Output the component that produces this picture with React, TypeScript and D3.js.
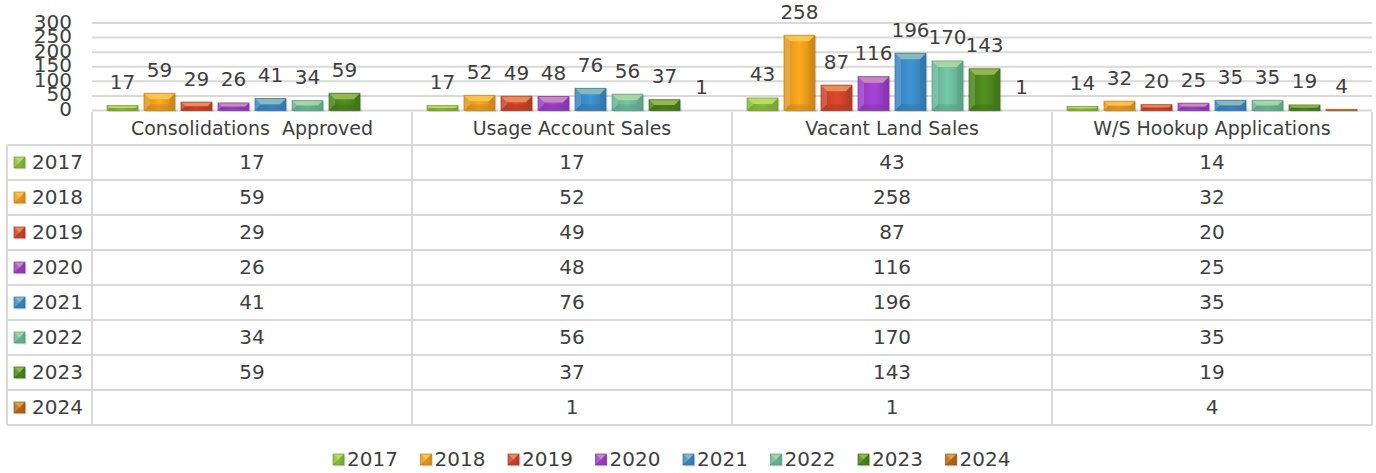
import React from "react";
import * as d3 from "d3";

const categories = ["Consolidations  Approved", "Usage Account Sales", "Vacant Land Sales", "W/S Hookup Applications"];
const years = ["2017", "2018", "2019", "2020", "2021", "2022", "2023", "2024"];
const v2017 = [17, 17, 43, 14];
const v2018 = [59, 52, 258, 32];
const v2019 = [29, 49, 87, 20];
const v2020 = [26, 48, 116, 25];
const v2021 = [41, 76, 196, 35];
const v2022 = [34, 56, 170, 35];
const v2023 = [59, 37, 143, 19];
const v2024 = [null, 1, 1, 4];
const seriesValues: (number | null)[][] = [v2017, v2018, v2019, v2020, v2021, v2022, v2023, v2024];
const yTicks = [0, 50, 100, 150, 200, 250, 300];
const colors = ["#8cc43c", "#f2a11c", "#d4452b", "#a040d0", "#3c8dcc", "#6dbfa0", "#4c8a1c", "#c26a14"];

const W = 1376;
const H = 473;
const FONT = "'DejaVu Sans', sans-serif";
const TXT = "#404040";
const GRID = "#d9d9d9";

function Bevel({ x, y, w, h, color, id }: { x: number; y: number; w: number; h: number; color: string; id: string }) {
  if (h <= 0.5) return null;
  const c = d3.color(color)!;
  const light = d3.interpolateRgb(color, "#ffffff")(0.45);
  const hi = d3.interpolateRgb(color, "#fff7a0")(0.45);
  const dark = c.darker(0.6).formatHex();
  const b = Math.min(6, h / 2, w / 2);
  return (
    <g>
      <defs>
        <linearGradient id={id} x1="0" x2="1" y1="0" y2="0">
          <stop offset="0" stopColor={c.darker(0.35).formatHex()} />
          <stop offset="0.5" stopColor={c.brighter(0.15).formatHex()} />
          <stop offset="1" stopColor={c.darker(0.45).formatHex()} />
        </linearGradient>
      </defs>
      <rect x={x + 1.5} y={y + 1.5} width={w} height={h} fill="#000" opacity={0.12} />
      <rect x={x} y={y} width={w} height={h} fill={`url(#${id})`} />
      <polygon points={`${x},${y} ${x + w},${y} ${x + w - b},${y + b} ${x + b},${y + b}`} fill={hi} opacity={0.9} />
      <polygon points={`${x},${y} ${x + b},${y + b} ${x + b},${y + h - b} ${x},${y + h}`} fill={light} opacity={0.35} />
      <polygon points={`${x + w},${y} ${x + w - b},${y + b} ${x + w - b},${y + h - b} ${x + w},${y + h}`} fill={dark} opacity={0.35} />
      <polygon points={`${x},${y + h} ${x + b},${y + h - b} ${x + w - b},${y + h - b} ${x + w},${y + h}`} fill={dark} opacity={0.5} />
      <rect x={x} y={y} width={w} height={h} fill="none" stroke={dark} strokeWidth={1} opacity={0.7} />
    </g>
  );
}

export default function App() {
  const plotLeft = 92;
  const plotRight = 1372;
  const y = d3.scaleLinear().domain([0, 300]).range([110.5, 23]);
  const x0 = d3.scaleBand<string>().domain(categories).range([plotLeft, plotRight]).paddingInner(0).paddingOuter(0);
  const x1 = d3.scaleBand<string>().domain(years).range([0, x0.bandwidth()]).paddingInner(0.162).paddingOuter(0.405);

  const tableTop = 112;
  const headerBottom = 145;
  const rowH = 35;
  const tableLeft = 7;
  const rowY = d3.scaleBand<string>().domain(years).range([headerBottom, headerBottom + rowH * years.length]);
  const tableBottom = headerBottom + rowH * years.length;

  const legendStep = 87.5;
  const legendStart = 333;

  return (
    <svg width={W} height={H} style={{ position: "absolute", left: 0, top: 0, background: "#fff" }} fontFamily={FONT}>
      {yTicks.map((t) => (
        <line key={t} x1={plotLeft} x2={plotRight} y1={y(t)} y2={y(t)} stroke={GRID} strokeWidth={2} />
      ))}
      {yTicks.map((t) => (
        <text key={"yl" + t} x={72} y={y(t)} textAnchor="end" dominantBaseline="middle" fontSize={20} fill={TXT}>
          {t}
        </text>
      ))}
      {categories.map((cat, ci) =>
        years.map((yr, si) => {
          const v = seriesValues[si][ci];
          if (v == null) return null;
          const bx = (x0(cat) as number) + (x1(yr) as number);
          const bw = x1.bandwidth();
          const top = y(v);
          return <Bevel key={cat + yr} id={`g${ci}_${si}`} x={bx} y={top} w={bw} h={y(0) - top} color={colors[si]} />;
        })
      )}
      {categories.map((cat, ci) =>
        years.map((yr, si) => {
          const v = seriesValues[si][ci];
          if (v == null) return null;
          const cx = (x0(cat) as number) + (x1(yr) as number) + x1.bandwidth() / 2;
          return (
            <text key={"dl" + cat + yr} x={cx} y={y(v) - 16.5} textAnchor="middle" fontSize={20} fill={TXT}>
              {v}
            </text>
          );
        })
      )}
      <g stroke={GRID} strokeWidth={2} fill="none">
        <line x1={plotLeft} x2={plotLeft} y1={tableTop} y2={tableBottom} />
        {categories.map((cat) => (
          <line key={"cv" + cat} x1={(x0(cat) as number) + x0.bandwidth()} x2={(x0(cat) as number) + x0.bandwidth()} y1={tableTop} y2={tableBottom} />
        ))}
        <line x1={tableLeft} x2={tableLeft} y1={headerBottom} y2={tableBottom} />
        {years.map((yr) => (
          <line key={"rl" + yr} x1={tableLeft} x2={plotRight} y1={rowY(yr)} y2={rowY(yr)} />
        ))}
        <line x1={tableLeft} x2={plotRight} y1={tableBottom} y2={tableBottom} />
      </g>
      {categories.map((cat) => (
        <text key={"hd" + cat} x={(x0(cat) as number) + x0.bandwidth() / 2} y={(tableTop + headerBottom) / 2 + 1} textAnchor="middle" dominantBaseline="middle" fontSize={19} fill={TXT} style={{ whiteSpace: "pre" }}>
          {cat}
        </text>
      ))}
      {years.map((yr, si) => (
        <g key={"row" + yr}>
          <Bevel id={`tk${si}`} x={14} y={(rowY(yr) as number) + rowH / 2 - 5.5} w={11} h={11} color={colors[si]} />
          <text x={32} y={(rowY(yr) as number) + rowH / 2 + 1} dominantBaseline="middle" fontSize={20} fill={TXT}>
            {yr}
          </text>
          {categories.map((cat, ci) => {
            const v = seriesValues[si][ci];
            if (v == null) return null;
            return (
              <text key={"tv" + cat} x={(x0(cat) as number) + x0.bandwidth() / 2} y={(rowY(yr) as number) + rowH / 2 + 1} textAnchor="middle" dominantBaseline="middle" fontSize={20} fill={TXT}>
                {v}
              </text>
            );
          })}
        </g>
      ))}
      {years.map((yr, si) => {
        const lx = legendStart + si * legendStep;
        return (
          <g key={"lg" + yr}>
            <Bevel id={`lg${si}`} x={lx} y={454} w={11} h={11} color={colors[si]} />
            <text x={lx + 14} y={460.5} dominantBaseline="middle" fontSize={20} fill={TXT}>
              {yr}
            </text>
          </g>
        );
      })}
    </svg>
  );
}
